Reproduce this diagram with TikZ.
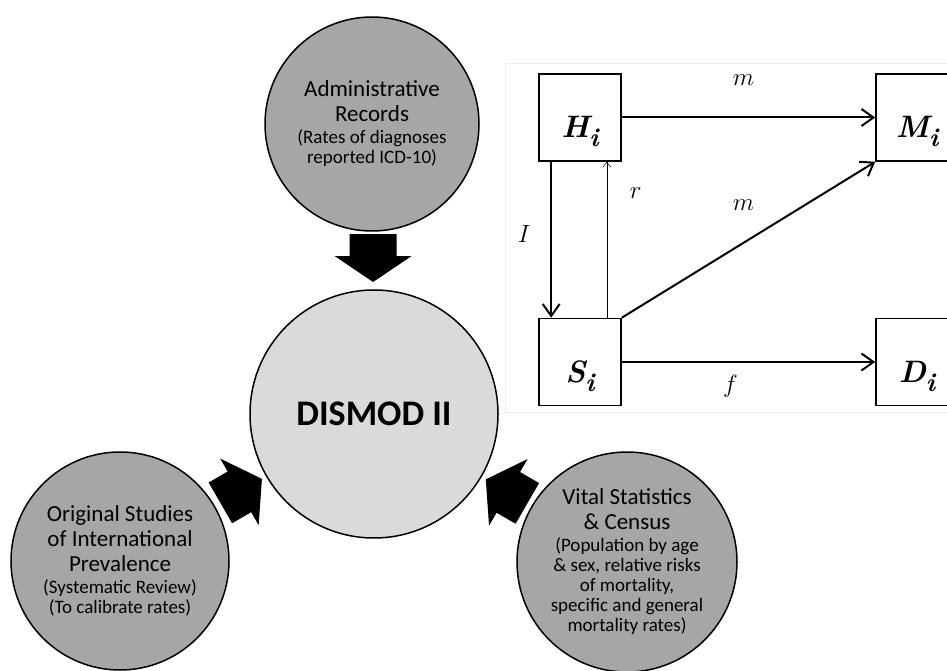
\documentclass[tikz,border=0pt]{standalone}
\usepackage{fontspec}
\setsansfont{Carlito}
\usetikzlibrary{arrows.meta,calc}
\definecolor{srcgray}{HTML}{A6A6A6}
\definecolor{coregray}{HTML}{DADADA}
\definecolor{framegray}{HTML}{EDEDED}
\newcommand{\subtxt}[1]{{\fontsize{19}{20}\selectfont #1}}
\newcommand{\statelbl}[1]{{\bfseries\itshape #1}\raisebox{-9pt}{\fontsize{26}{28}\selectfont\bfseries\itshape i}}
\tikzset{
  srccircle/.style={circle, draw=black, line width=1.5pt, fill=srcgray, inner sep=0pt,
    minimum size=#1, align=center, font=\sffamily\fontsize{23}{25}\selectfont},
  corecircle/.style={circle, draw=black, line width=1.5pt, fill=coregray, inner sep=0pt,
    minimum size=248pt, font=\sffamily\bfseries\fontsize{36}{40}\selectfont},
  statebox/.style={draw=black, line width=1.6pt, fill=white, minimum width=82pt, minimum height=87pt,
    inner sep=0pt, text height=50pt, text depth=9pt, font=\fontsize{31}{36}\selectfont},
  thickarr/.style={line width=2pt, -{Straight Barb[length=12pt,width=17pt,line width=2pt]}},
  thinarr/.style={line width=0.5pt, -{Straight Barb[length=5pt,width=8pt,line width=0.5pt]}},
  ratelabel/.style={font=\fontsize{25}{30}\selectfont, inner sep=0pt},
  blockarrow/.pic={\fill[black] (0,0) -- (-26,38.5) -- (-26,23.5) -- (-48,23.5) -- (-48,-23.5)
    -- (-26,-23.5) -- (-26,-38.5) -- cycle;}
}
\begin{document}
\begin{tikzpicture}[x=1pt,y=1pt]
\useasboundingbox (0,0) rectangle (947,670);
\clip (0,0) rectangle (947,670);

% source circles
\node[srccircle=214pt] (adm) at (372,546)
  {Administrative\\Records\\[-3pt]
   \subtxt{(Rates of diagnoses}\\[-5pt]\subtxt{reported ICD-10)}};
\node[srccircle=218pt] (orig) at (120,109)
  {Original Studies\\of International\\Prevalence\\[-3pt]
   \subtxt{(Systematic Review)}\\[-5pt]\subtxt{(To calibrate rates)}};
\node[srccircle=220pt] (vital) at (627,108)
  {Vital Statistics\\\& Census\\[-3pt]
   \subtxt{(Population by age}\\[-5pt]\subtxt{\& sex, relative risks}\\[-5pt]\subtxt{of mortality,}\\[-5pt]
   \subtxt{specific and general}\\[-5pt]\subtxt{mortality rates)}};
\node[corecircle] (dis) at (374,256) {DISMOD II};

% block arrows into DISMOD II
\coordinate (tipA) at ($(dis.center)!132pt!(adm.center)$);
\coordinate (tipO) at ($(dis.center)!129.5pt!(orig.center)$);
\coordinate (tipV) at ($(dis.center)!129.5pt!(vital.center)$);
\pic[rotate=-90] at (tipA) {blockarrow};
\pic[rotate=30] at (tipO) {blockarrow};
\pic[rotate=150] at (tipV) {blockarrow};

% state diagram
\draw[framegray, line width=0.8pt] (505,258) rectangle (960,607);
\node[statebox] (H) at (580,552.5) {\statelbl{H}};
\node[statebox] (M) at (917,552.5) {\statelbl{M}};
\node[statebox] (S) at (580,308) {\statelbl{S}};
\node[statebox] (D) at (917,308) {\statelbl{D}};

\draw[thickarr] (H.east) -- (M.west)
  node[ratelabel, pos=0.48, yshift=37pt] (lm1) {$m$};
\draw[thickarr] ([xshift=13pt]H.south west) -- ([xshift=13pt]S.north west)
  node[ratelabel, midway, xshift=-27pt, yshift=6pt] (lI) {$I$};
\draw[thinarr] ([xshift=-15pt]S.north east) -- ([xshift=-15pt]H.south east)
  node[ratelabel, pos=0.8, xshift=29pt] (lr) {$r$};
\draw[thickarr] (S.north east) -- (M.south west)
  node[ratelabel, midway, xshift=-5pt, yshift=35pt] (lm2) {$m$};
\draw[thickarr] (S.east) -- (D.west)
  node[ratelabel, midway, xshift=-18pt, yshift=-24pt] (lf) {$f$};
\end{tikzpicture}
\end{document}
